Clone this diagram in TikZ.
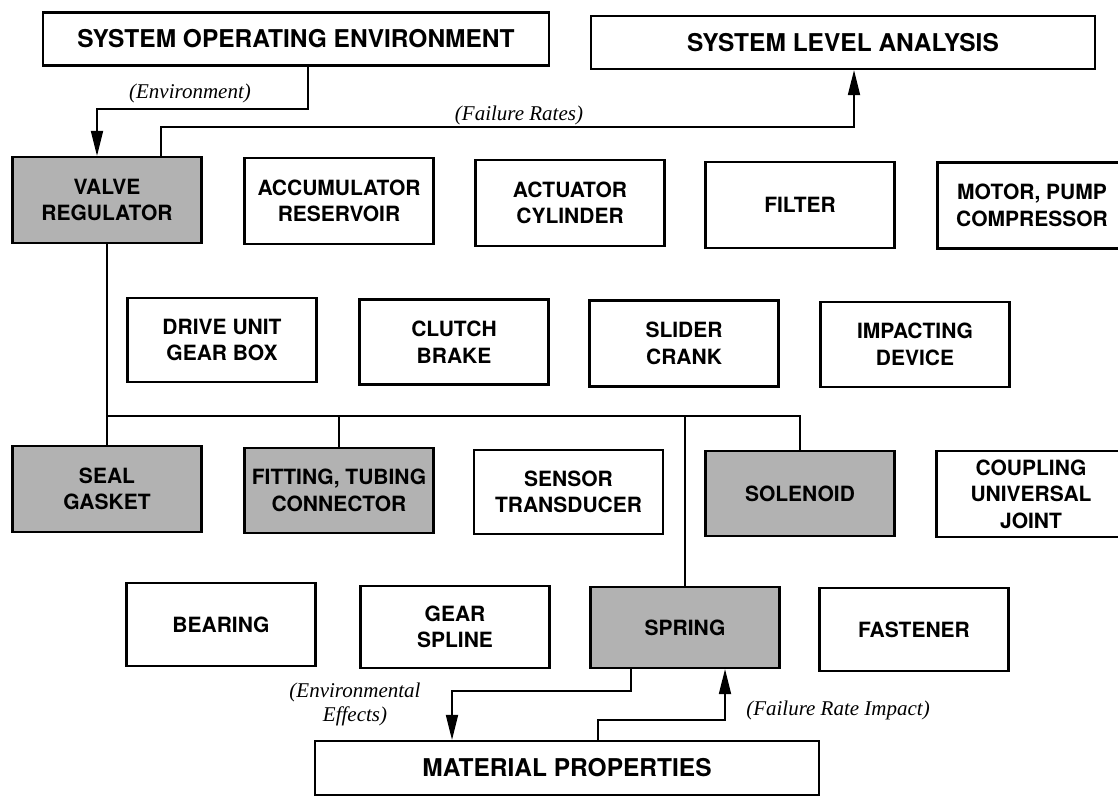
\documentclass[tikz,border=0pt]{standalone}
\usepackage{fontspec}
\setmainfont{TeX Gyre Heros}
\newfontfamily\notefont{Liberation Serif}
\usepackage{tikz}
\usetikzlibrary{arrows.meta,positioning,calc}
\definecolor{HalfTone}{HTML}{B2B2B2}

\begin{document}
\begin{tikzpicture}[x=1pt,y=-1pt,
partbox/.style={draw,line width=2.2pt,minimum width=189pt,minimum height=86pt,align=center,inner sep=2pt,font=\fontsize{21}{26.5}\selectfont\bfseries},
shaded/.style={partbox,fill=HalfTone},
titlebox/.style={draw,line width=2.2pt,minimum width=506pt,minimum height=53pt,inner sep=2pt,font=\fontsize{24.5}{28}\selectfont\bfseries},
link/.style={line width=1.8pt},
arr/.style={-{Triangle[length=25pt,width=12pt]},line width=1.8pt},
note/.style={font=\notefont\itshape\fontsize{21}{24}\selectfont,align=center,inner sep=0pt}
]
\useasboundingbox (0,0) rectangle (1118,796);
\fill[white] (0,0) rectangle (1118,796);

\node[titlebox] (soe) at (296,39) {SYSTEM OPERATING ENVIRONMENT};
\node[titlebox,minimum width=504pt] (sla) at (843,42.5) {SYSTEM LEVEL ANALYSIS};

% components, first row
\node[shaded] (valve) at (107,200) {VALVE\\REGULATOR};
\node[partbox] (accum) at (339,201) {ACCUMULATOR\\RESERVOIR};
\node[partbox] (actuator) at (570,203) {ACTUATOR\\CYLINDER};
\node[partbox] (filter) at (800,205) {FILTER};
\node[partbox] (motor) at (1032,205.5) {MOTOR, PUMP\\COMPRESSOR};
% second row
\node[partbox,minimum height=84pt] (drive) at (222,340) {DRIVE UNIT\\GEAR BOX};
\node[partbox,minimum height=85pt] (clutch) at (454,342) {CLUTCH\\BRAKE};
\node[partbox,minimum height=86pt] (slider) at (684,343.5) {SLIDER\\CRANK};
\node[partbox,minimum height=85pt] (impact) at (915,344.5) {IMPACTING\\DEVICE};
% third row
\node[shaded] (seal) at (107,489) {SEAL\\GASKET};
\node[shaded,minimum height=85pt] (fitting) at (339,490.5) {FITTING, TUBING\\CONNECTOR};
\node[partbox,minimum height=84pt] (sensor) at (568.5,492) {SENSOR\\TRANSDUCER};
\node[shaded,minimum height=85pt] (solenoid) at (800,493.5) {SOLENOID};
\node[partbox] (coupling) at (1031,494) {COUPLING\\UNIVERSAL\\JOINT};
% fourth row
\node[partbox,minimum height=83pt] (bearing) at (221,624.5) {BEARING};
\node[partbox,minimum height=82pt] (gear) at (455,627) {GEAR\\SPLINE};
\node[shaded,minimum height=81pt] (spring) at (685,627.5) {SPRING};
\node[partbox,minimum height=83pt] (fastener) at (914,629.5) {FASTENER};

\node[titlebox,minimum width=504pt,minimum height=54pt] (material) at (567,768) {MATERIAL PROPERTIES};

% environment in, failure rates out
\draw[arr] ([xshift=12]soe.south) -- ++(0,42) -| ([xshift=-10]valve.north);
\draw[arr] ([xshift=54]valve.north) -- ++(0,-29) -| ([xshift=11]sla.south);
\node[note] (envlbl) at (190,93) {(Environment)};
\node[note] (faillbl) at (519,115) {(Failure Rates)};

% bus to the shaded parts
\coordinate (bus) at (107,416);
\draw[link] (valve) -- (seal);
\draw[link] (bus) -| (solenoid.north);
\draw[link] (fitting.north) -- (fitting.north |- bus);
\draw[link] (spring.north) -- (spring.north |- bus);

% spring and material properties
\draw[arr] ([xshift=-54]spring.south) -- ++(0,22) -| ([xshift=-115]material.north);
\draw[arr] ([xshift=31]material.north) -- ++(0,-20) -| ([xshift=40]spring.south);
\node[note] (efflbl) at (355,704) {(Environmental\\Effects)};
\node[note] (implbl) at (838,710) {(Failure Rate Impact)};
\end{tikzpicture}
\end{document}
